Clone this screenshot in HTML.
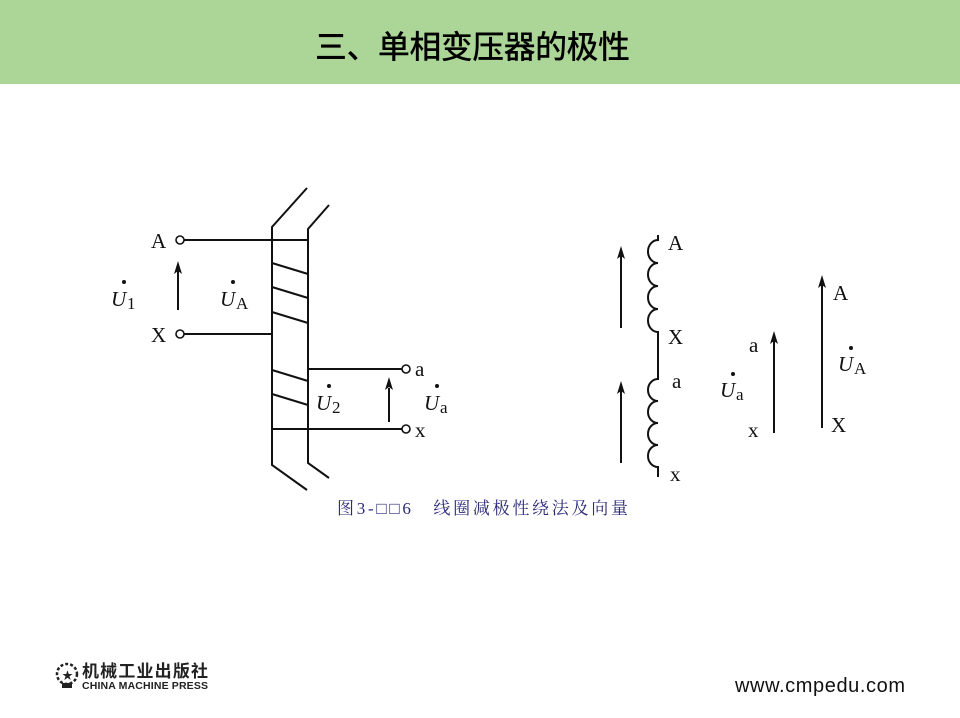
<!DOCTYPE html>
<html><head><meta charset="utf-8"><style>
body{margin:0;width:960px;height:718px;background:#fff;position:relative;overflow:hidden;font-family:"Liberation Sans","Noto Sans CJK SC",sans-serif}
.hdr{position:absolute;left:0;top:0;width:960px;height:84px;background:#acd598}
svg{position:absolute;left:0;top:0}
</style></head><body>
<div class="hdr"></div>
<svg width="960" height="718" viewBox="0 0 960 718">
<text x="315" y="58" font-family="'Noto Sans CJK SC','WenQuanYi Zen Hei',sans-serif" font-size="32" font-weight="500" fill="#000" textLength="315">三、单相变压器的极性</text>
<g stroke="#111" stroke-width="2" fill="none">
<path d="M307,188 L272,227 V465 L307,490"/>
<path d="M329,205 L308,229 V463 L329,478"/>
<path d="M184,240 H308 M184,334 H272 M308,369 H402 M272,429 H402"/>
<path d="M272,263 L308,274 M272,287 L308,298 M272,312 L308,323 M272,370 L308,381 M272,394 L308,405"/>
<circle cx="180" cy="240" r="4" stroke-width="1.6"/><circle cx="180" cy="334" r="4" stroke-width="1.6"/>
<circle cx="406" cy="369" r="4" stroke-width="1.6"/><circle cx="406" cy="429" r="4" stroke-width="1.6"/>
<path d="M658,235 V240 a10,11.5 0 1 0 0,23 a10,11.5 0 1 0 0,23 a10,11.5 0 1 0 0,23 a10,11.5 0 1 0 0,23 V379 a10,11 0 1 0 0,22 a10,11 0 1 0 0,22 a10,11 0 1 0 0,22 a10,11 0 1 0 0,22 V477"/>
</g>
<g stroke="#111" stroke-width="2">
<line x1="178" y1="310" x2="178" y2="268"/>
<line x1="389" y1="422" x2="389" y2="388"/>
<line x1="621" y1="328" x2="621" y2="253"/>
<line x1="621" y1="463" x2="621" y2="388"/>
<line x1="774" y1="433" x2="774" y2="338"/>
<line x1="822" y1="428" x2="822" y2="282"/>
</g>
<g fill="#111">
<path d="M178,261 l4,13 l-4,-3 l-4,3z"/>
<path d="M389,377 l4,13 l-4,-3 l-4,3z"/>
<path d="M621,246 l4,13 l-4,-3 l-4,3z"/>
<path d="M621,381 l4,13 l-4,-3 l-4,3z"/>
<path d="M774,331 l4,13 l-4,-3 l-4,3z"/>
<path d="M822,275 l4,13 l-4,-3 l-4,3z"/>
</g>
<g font-family="Liberation Serif,serif" font-size="21" fill="#111">
<text x="151" y="248">A</text><text x="151" y="342">X</text>
<text x="415" y="376">a</text><text x="415" y="437">x</text>
<text x="111" y="306" font-style="italic">U</text><text x="127" y="309" font-size="17">1</text><circle cx="124" cy="282" r="2"/>
<text x="220" y="306" font-style="italic">U</text><text x="236" y="309" font-size="17">A</text><circle cx="233" cy="282" r="2"/>
<text x="316" y="410" font-style="italic">U</text><text x="332" y="413" font-size="17">2</text><circle cx="329" cy="386" r="2"/>
<text x="424" y="410" font-style="italic">U</text><text x="440" y="413" font-size="17">a</text><circle cx="437" cy="386" r="2"/>
<text x="668" y="250">A</text><text x="668" y="344">X</text><text x="672" y="388">a</text><text x="670" y="481">x</text>
<text x="749" y="352">a</text><text x="748" y="437">x</text>
<text x="833" y="300">A</text><text x="831" y="432">X</text>
<text x="720" y="397" font-style="italic">U</text><text x="736" y="400" font-size="17">a</text><circle cx="733" cy="374" r="2"/>
<text x="838" y="371" font-style="italic">U</text><text x="854" y="374" font-size="17">A</text><circle cx="851" cy="348" r="2"/>
</g>
<text x="337" y="514" font-family="Liberation Serif,'Noto Serif CJK SC',serif" font-size="17" fill="#2a2a78" textLength="291">图3-□□6　线圈减极性绕法及向量</text>
<g>
<circle cx="67" cy="674" r="10" fill="none" stroke="#222" stroke-width="2.5" stroke-dasharray="3 2"/>
<text x="62" y="679" font-size="11" fill="#222">★</text>
<rect x="62" y="683" width="10" height="5" fill="#222"/>
<text x="82" y="677" font-family="'Noto Sans CJK SC',sans-serif" font-size="17" font-weight="bold" fill="#222" textLength="126">机械工业出版社</text>
<text x="82" y="689" font-size="10.5" font-weight="bold" fill="#222" textLength="126">CHINA MACHINE PRESS</text>
</g>
<text x="735" y="692" font-size="20" fill="#111" textLength="170">www.cmpedu.com</text>
</svg>
</body></html>
